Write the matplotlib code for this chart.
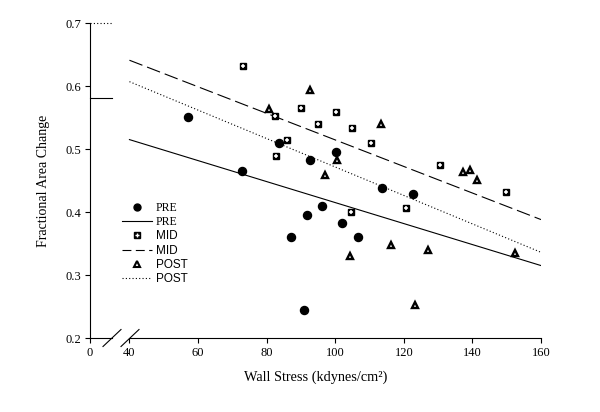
import numpy as np
import matplotlib
matplotlib.use('Agg')
import matplotlib.pyplot as plt
from matplotlib.lines import Line2D
from matplotlib.legend_handler import HandlerTuple

plt.rcParams['font.family'] = ['Liberation Serif', 'DejaVu Serif']

# data
pre_x = [57.0, 72.8, 83.5, 87.2, 90.9, 91.8, 92.6, 96.2, 100.3, 102.1, 106.6, 113.5, 122.6]
pre_y = [0.551, 0.465, 0.509, 0.361, 0.244, 0.395, 0.482, 0.410, 0.496, 0.383, 0.360, 0.438, 0.429]
mid_x = [73.0, 82.4, 82.6, 86.0, 89.9, 94.9, 100.3, 104.5, 105.0, 110.5, 120.5, 130.6, 149.8]
mid_y = [0.632, 0.553, 0.489, 0.515, 0.565, 0.539, 0.559, 0.400, 0.534, 0.510, 0.407, 0.474, 0.432]
post_x = [80.6, 92.5, 96.9, 100.5, 104.4, 113.4, 116.4, 123.4, 127.0, 137.2, 139.4, 141.4, 152.3]
post_y = [0.563, 0.594, 0.459, 0.482, 0.330, 0.540, 0.347, 0.253, 0.339, 0.463, 0.466, 0.451, 0.335]

fit_x = [40, 160]
pre_fit = [0.515, 0.315]
mid_fit = [0.641, 0.388]
post_fit = [0.607, 0.336]

# short stubs drawn in the broken part of the x axis
stub_x = [0, 22]
stub_pre = [0.581, 0.581]
stub_post = [0.70, 0.70]

xticks = [0, 40, 60, 80, 100, 120, 140, 160]
yticks = [0.2, 0.3, 0.4, 0.5, 0.6, 0.7]

# broken x axis: 0..40 squeezed
sq = 11.5 / 40.0
def fwd(x):
    x = np.asarray(x, dtype=float)
    return np.where(x >= 40, x, 40 - (40 - x) * sq)
def inv(u):
    u = np.asarray(u, dtype=float)
    return np.where(u >= 40, u, 40 - (40 - u) / sq)

fig = plt.figure(figsize=(6, 4.12), dpi=100)
ax = fig.add_axes([0.15, 0.1796, 0.7517, 0.7644])
ax.set_xscale('function', functions=(fwd, inv))
ax.set_xlim(0, 160)
ax.set_ylim(0.2, 0.7)

lw = 0.8
ax.plot(fit_x, pre_fit, color='black', lw=lw)
ax.plot(fit_x, mid_fit, color='black', lw=lw, dashes=(12.5, 4.5))
ax.plot(fit_x, post_fit, color='black', lw=lw, dashes=(1, 2))
ax.plot(stub_x, stub_pre, color='black', lw=lw, clip_on=False)
ax.plot(stub_x, stub_post, color='black', lw=lw, dashes=(1, 2), clip_on=False)

ax.plot(pre_x, pre_y, 'o', color='black', ms=5.8, ls='none')
ax.plot(mid_x, mid_y, 's', color='black', ms=5.0, ls='none')
ax.plot(mid_x, mid_y, '+', color='white', ms=3.0, mew=1.1, ls='none')
ax.plot(post_x, post_y, '^', mfc='white', mec='black', mew=1.7, ms=4.6, ls='none')

ax.set_xticks(xticks)
ax.set_xticklabels([str(t) for t in xticks])
ax.set_yticks(yticks)
ax.set_yticklabels(['%.1f' % t for t in yticks])
ax.tick_params(direction='out', length=3.5, width=0.8, labelsize=9, pad=3)

for s in ['top', 'right', 'bottom']:
    ax.spines[s].set_visible(False)
ax.spines['left'].set_linewidth(0.8)

# bottom axis with break
b1 = (112 - 90) / 451.0
b2 = (130 - 90) / 451.0
ax.plot([0, b1], [0, 0], transform=ax.transAxes, color='black', lw=0.8, clip_on=False)
ax.plot([b2, 1], [0, 0], transform=ax.transAxes, color='black', lw=0.8, clip_on=False)
dx = 9 / 451.0
dy = 8.5 / 315.0
for b in (b1, b2):
    ax.plot([b - dx, b + dx], [-dy, dy], transform=ax.transAxes, color='black', lw=0.8, clip_on=False)

ax.set_xlabel('Wall Stress (kdynes/cm²)', fontsize=10.3, labelpad=8)
ax.set_ylabel('Fractional Area Change', fontsize=10, labelpad=11)

h_pre = Line2D([], [], marker='o', color='black', ms=5, ls='none')
h_pre_l = Line2D([], [], color='black', lw=lw)
h_mid = (Line2D([], [], marker='s', color='black', ms=4.2, ls='none'),
         Line2D([], [], marker='+', color='white', ms=2.5, mew=1.0, ls='none'))
h_mid_l = Line2D([], [], color='black', lw=lw, dashes=(8, 4))
h_post = Line2D([], [], marker='^', mfc='white', mec='black', mew=1.5, ms=3.8, ls='none')
h_post_l = Line2D([], [], color='black', lw=lw, dashes=(1, 2))

leg = ax.legend([h_pre, h_pre_l, h_mid, h_mid_l, h_post, h_post_l],
                ['PRE', 'PRE', 'MID', 'MID', 'POST', 'POST'],
                handler_map={tuple: HandlerTuple(ndivide=1)},
                loc='upper left', bbox_to_anchor=(0.071, 0.432), frameon=False,
                fontsize=8.5, handlelength=2.5, handletextpad=0.35,
                labelspacing=0.19, borderpad=0, borderaxespad=0)
for i, t in enumerate(leg.get_texts()):
    if i >= 2:
        t.set_fontfamily(['Liberation Sans', 'DejaVu Sans'])

fig.savefig('out.png', dpi=100)
